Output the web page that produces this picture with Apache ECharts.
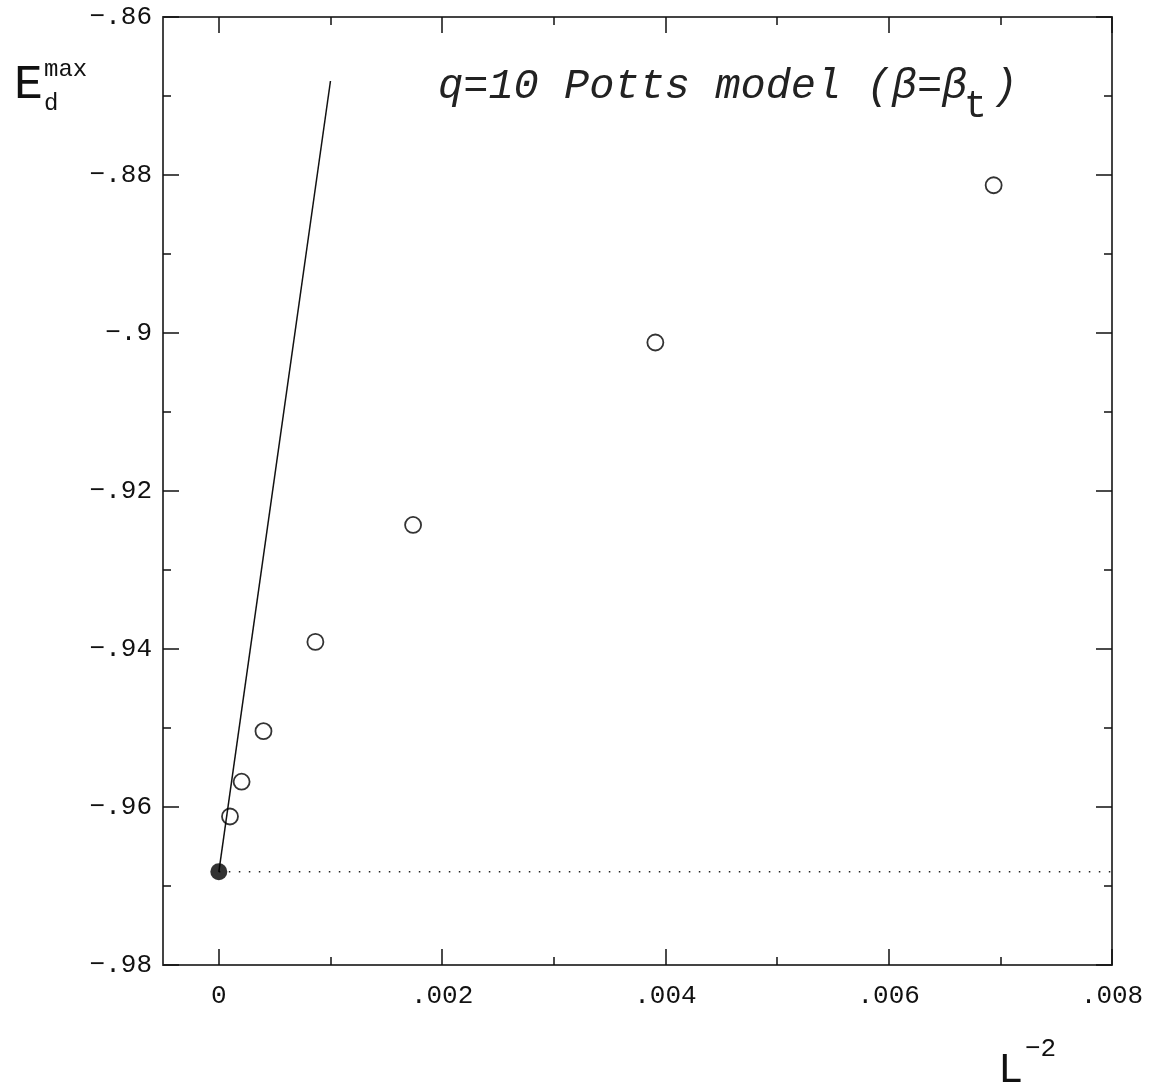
<!DOCTYPE html>
<html>
<head>
<meta charset="utf-8">
<title>q=10 Potts model</title>
<script src="https://cdn.jsdelivr.net/npm/echarts@6/dist/echarts.min.js"></script>
<style>
  html, body { margin: 0; padding: 0; background: #fff; }
  #chart { width: 1150px; height: 1086px; }
</style>
</head>
<body>
<div id="chart"></div>
<script>
// Maximum of the disordered-phase energy vs L^-2
const finiteSizeX = [0.00694, 0.00391, 0.00174, 0.000865, 0.0004, 0.000204, 0.0001];
const finiteSizeY = [-0.8813, -0.9012, -0.9243, -0.9391, -0.9504, -0.9568, -0.9612];

// Infinite-volume value and the straight line through it
const limitPoint = [0, -0.9682];
const fitLine = [[0, -0.9682], [0.001, -0.8681]];
const limitLevel = [[0, -0.9682], [0.008, -0.9682]];

// Axis ranges and ticks
const xRange = [-0.0005, 0.008];
const yRange = [-0.98, -0.86];
const xTickValues = [0, 0.002, 0.004, 0.006, 0.008];
const xTickLabels = ['0', '.002', '.004', '.006', '.008'];
const xMinorValues = [0.001, 0.003, 0.005, 0.007];
const yTickValues = [-0.98, -0.96, -0.94, -0.92, -0.90, -0.88, -0.86];
const yTickLabels = ['\u2212.98', '\u2212.96', '\u2212.94', '\u2212.92', '\u2212.9', '\u2212.88', '\u2212.86'];

const FONT = '"Liberation Mono", "DejaVu Sans Mono", monospace';
const AXIS_COLOR = '#444';
const INK = '#111';

function lookup(values, labels, v) {
  for (let i = 0; i < values.length; i++) {
    if (Math.abs(values[i] - v) < 1e-7) return labels[i];
  }
  return '';
}

const chart = echarts.init(document.getElementById('chart'), null, { renderer: 'canvas' });

const frameLine = { show: true, onZero: false, lineStyle: { color: AXIS_COLOR, width: 2 } };
const tickStyle = { color: INK, width: 1.5 };

function xAxisDef(position, withLabels, minor) {
  return {
    type: 'value',
    position: position,
    min: xRange[0],
    max: xRange[1],
    axisLine: minor ? { show: false } : frameLine,
    splitLine: { show: false },
    axisTick: {
      show: true,
      inside: true,
      length: minor ? 8 : 16,
      customValues: minor ? xMinorValues : xTickValues,
      lineStyle: tickStyle
    },
    axisLabel: withLabels ? {
      show: true,
      customValues: xTickValues,
      margin: 18,
      color: INK,
      fontFamily: FONT,
      fontSize: 26,
      formatter: v => lookup(xTickValues, xTickLabels, v)
    } : { show: false }
  };
}

function yAxisDef(position, withLabels) {
  return {
    type: 'value',
    position: position,
    min: yRange[0],
    max: yRange[1],
    interval: 0.02,
    axisLine: frameLine,
    splitLine: { show: false },
    axisTick: { show: true, inside: true, length: 16, lineStyle: tickStyle },
    minorTick: { show: true, splitNumber: 2, length: 8, lineStyle: tickStyle },
    minorSplitLine: { show: false },
    axisLabel: withLabels ? {
      show: true,
      margin: 11,
      color: INK,
      fontFamily: FONT,
      fontSize: 26,
      formatter: v => lookup(yTickValues, yTickLabels, v)
    } : { show: false }
  };
}

const option = {
  animation: false,
  backgroundColor: '#fff',
  grid: { left: 163, right: 38, top: 17, bottom: 121 },
  xAxis: [
    xAxisDef('bottom', true, false),
    xAxisDef('bottom', false, true),
    xAxisDef('top', false, false),
    xAxisDef('top', false, true)
  ],
  yAxis: [
    yAxisDef('left', true),
    yAxisDef('right', false)
  ],
  graphic: [
    // y-axis title: E_d^max
    { type: 'text', left: 14, top: 61, style: { text: 'E', fontFamily: FONT, fontSize: 48, fill: INK } },
    { type: 'text', left: 44, top: 58, style: { text: 'max', fontFamily: FONT, fontSize: 24, fill: INK } },
    { type: 'text', left: 44, top: 92, style: { text: 'd', fontFamily: FONT, fontSize: 24, fill: INK } },
    // x-axis title: L^-2
    { type: 'text', left: 998, top: 1050, style: { text: 'L', fontFamily: FONT, fontSize: 42, fill: INK } },
    { type: 'text', left: 1025, top: 1036, style: { text: '\u22122', fontFamily: FONT, fontSize: 26, fill: INK } },
    // panel caption
    { type: 'text', left: 438, top: 66, style: { text: 'q=10 Potts model (\u03b2=\u03b2 )', fontFamily: FONT, fontSize: 42, fontStyle: 'italic', fill: '#222' } },
    { type: 'text', left: 964, top: 88, style: { text: 't', fontFamily: FONT, fontSize: 38, fill: '#222' } }
  ],
  series: [
    {
      type: 'line',
      xAxisIndex: 0, yAxisIndex: 0,
      data: limitLevel,
      showSymbol: false,
      silent: true,
      z: 1,
      lineStyle: { color: '#222', width: 1.5, type: [1.5, 8.5] }
    },
    {
      type: 'line',
      xAxisIndex: 0, yAxisIndex: 0,
      data: fitLine,
      showSymbol: false,
      silent: true,
      z: 2,
      lineStyle: { color: INK, width: 1.5 }
    },
    {
      type: 'scatter',
      xAxisIndex: 0, yAxisIndex: 0,
      data: finiteSizeX.map((x, i) => [x, finiteSizeY[i]]),
      symbol: 'circle',
      symbolSize: 16,
      z: 3,
      itemStyle: { color: 'rgba(255,255,255,0)', borderColor: '#000', borderWidth: 1.8 }
    },
    {
      type: 'scatter',
      xAxisIndex: 0, yAxisIndex: 0,
      data: [limitPoint],
      symbol: 'circle',
      symbolSize: 17,
      z: 4,
      itemStyle: { color: '#000' }
    }
  ]
};

chart.setOption(option);
</script>
</body>
</html>
